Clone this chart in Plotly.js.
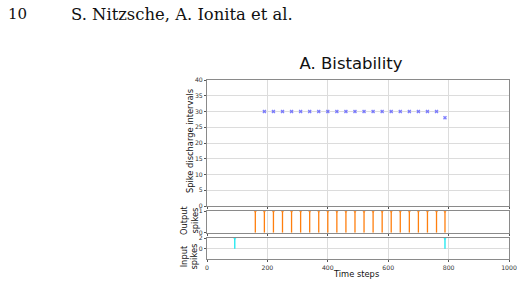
<!DOCTYPE html>
<html>
<head>
<meta charset="utf-8">
<script src="https://cdn.plot.ly/plotly-3.0.1.min.js"></script>
<style>html,body{margin:0;padding:0;background:#fff;}</style>
</head>
<body>
<div id="chart" style="width:524px;height:285px"></div>
<script>
// Spike discharge intervals (time of spike, interval to previous spike)
const intervalTimes  = [190, 220, 250, 280, 310, 340, 370, 400, 430, 460, 490, 520, 550, 580, 610, 640, 670, 700, 730, 760, 788];
const intervalValues = [30, 30, 30, 30, 30, 30, 30, 30, 30, 30, 30, 30, 30, 30, 30, 30, 30, 30, 30, 30, 28];

// Output spike train
const outputTimes  = [160, 190, 220, 250, 280, 310, 340, 370, 400, 430, 460, 490, 520, 550, 580, 610, 640, 670, 700, 730, 760, 788];
const outputValues = [1, 1, 1, 1, 1, 1, 1, 1, 1, 1, 1, 1, 1, 1, 1, 1, 1, 1, 1, 1, 1, 1];

// Input spikes
const inputTimes  = [92, 788];
const inputValues = [2, 2];

const xTicks = [0, 200, 400, 600, 800, 1000];
const intervalTicks = [0, 5, 10, 15, 20, 25, 30, 35, 40];

const W = 524, H = 285;
const px = v => v / W;
const py = v => 1 - v / H;

const FONT = 'DejaVu Sans';
const tickFont = {family: FONT, size: 6.2, color: '#333'};
const labelFont = {family: FONT, size: 8.3, color: '#111'};

// stem trace: marker at the value, line down to zero via asymmetric error bar
function stems(xs, ys, color, xa, ya) {
  return {
    x: xs, y: ys, xaxis: xa, yaxis: ya,
    type: 'scatter', mode: 'markers',
    marker: {symbol: 'triangle-down', size: 3.5, color: color},
    error_y: {type: 'data', symmetric: false,
              array: ys.map(() => 0), arrayminus: ys,
              color: color, thickness: 1.3, width: 0},
    hoverinfo: 'skip', showlegend: false
  };
}

const traces = [
  {
    x: intervalTimes, y: intervalValues, xaxis: 'x', yaxis: 'y',
    type: 'scatter', mode: 'markers',
    marker: {symbol: 'x', size: 3.5, color: 'rgba(60,60,255,0.65)'},
    showlegend: false
  },
  stems(outputTimes, outputValues, '#ff7f0e', 'x2', 'y2'),
  stems(inputTimes, inputValues, '#17e8f0', 'x3', 'y3')
];

const frame = {
  showline: true, mirror: true, linecolor: '#8a8a8a', linewidth: 1,
  showgrid: true, gridcolor: '#dcdcdc', gridwidth: 1,
  zeroline: false,
  ticks: 'outside', ticklen: 2, tickwidth: 1, tickcolor: '#555',
  tickfont: tickFont, fixedrange: true
};
const xDom = [px(207), px(509)];

// text placed at fixed page positions
function label(text, x, y, angle, font, align) {
  return {text: text, xref: 'paper', yref: 'paper', x: px(x), y: py(y),
          xanchor: align || 'center', yanchor: 'middle', textangle: angle || 0,
          showarrow: false, font: font};
}

const layout = {
  width: W, height: H,
  margin: {l: 0, r: 0, t: 0, b: 0},
  paper_bgcolor: '#fff', plot_bgcolor: '#fff',
  font: {family: FONT},
  title: {text: 'A. Bistability', x: px(351), xanchor: 'center',
          y: py(63), yanchor: 'middle', font: {family: FONT, size: 16.5, color: '#111'}},
  xaxis: Object.assign({}, frame, {domain: xDom, anchor: 'y', range: [0, 1000],
          tickvals: xTicks, showticklabels: false}),
  yaxis: Object.assign({}, frame, {domain: [py(206), py(80)], anchor: 'x', range: [0, 40],
          tickvals: intervalTicks}),
  xaxis2: Object.assign({}, frame, {domain: xDom, anchor: 'y2', range: [0, 1000],
          tickvals: xTicks, showticklabels: false}),
  yaxis2: Object.assign({}, frame, {domain: [py(232.7), py(211.3)], anchor: 'x2', range: [0, 1],
          tickvals: [0, 1]}),
  xaxis3: Object.assign({}, frame, {domain: xDom, anchor: 'y3', range: [0, 1000],
          tickvals: xTicks}),
  yaxis3: Object.assign({}, frame, {domain: [py(259.3), py(238.3)], anchor: 'x3', range: [-2.05, 2],
          tickvals: [0, 2]}),
  annotations: [
    label('10', 6, 14, 0, {family: 'DejaVu Serif', size: 15, color: '#111'}, 'left'),
    label('S. Nitzsche, A. Ionita et al.', 69, 14, 0, {family: 'DejaVu Serif', size: 16.4, color: '#111'}, 'left'),
    label('Spike discharge intervals', 190, 141, -90, labelFont),
    label('Output<br>spikes', 189.5, 220.5, -90, labelFont),
    label('Input<br>spikes', 189, 256.5, -90, labelFont),
    label('Time steps', 356, 273.5, 0, labelFont)
  ]
};

Plotly.newPlot('chart', traces, layout, {displayModeBar: false, staticPlot: true});
</script>
</body>
</html>
